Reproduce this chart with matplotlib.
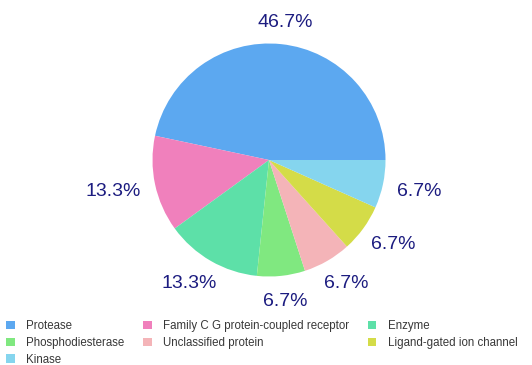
import numpy as np
import matplotlib
matplotlib.use("Agg")
import matplotlib.pyplot as plt

plt.rcParams["font.family"] = ["Liberation Sans", "DejaVu Sans"]

# target classes (15 compounds in total)
classes = ["Protease", "Family C G protein-coupled receptor", "Enzyme",
           "Phosphodiesterase", "Unclassified protein",
           "Ligand-gated ion channel", "Kinase"]
counts = [7, 2, 2, 1, 1, 1, 1]
colors = ["#5ca8f0", "#f080bc", "#5de0a8", "#80e880", "#f4b4b8",
          "#d4dc48", "#85d5ee"]

W, H = 532, 365
fig = plt.figure(figsize=(W / 100, H / 100), dpi=100)

cx, cy, r = 269, 160, 116.5
ax = fig.add_axes([(cx - r) / W, (H - cy - r) / H, 2 * r / W, 2 * r / H])
wedges, _ = ax.pie(counts, colors=colors, startangle=0, counterclock=True,
                   radius=1, wedgeprops=dict(linewidth=0))
ax.set_xlim(-1, 1)
ax.set_ylim(-1, 1)
ax.set_aspect("equal")
ax.axis("off")

# percent labels: the text box edge sits just outside the rim
total = sum(counts)
labels = []
for w, c in zip(wedges, counts):
    ang = np.deg2rad((w.theta1 + w.theta2) / 2)
    t = ax.annotate(f"{100 * c / total:.1f}%",
                    xy=(1.13 * np.cos(ang), 1.13 * np.sin(ang)),
                    xytext=(0, 0), textcoords="offset pixels",
                    ha="center", va="center", fontsize=14, color="#1c1c80",
                    annotation_clip=False)
    labels.append((t, ang))

fig.canvas.draw()
rend = fig.canvas.get_renderer()
for t, ang in labels:
    bb = t.get_window_extent(rend)
    hw, hh = bb.width / 2, bb.height / 2
    t.xyann = (hw * np.cos(ang), hh * np.sin(ang) - 2)

# legend laid out row by row in three columns
order = [0, 3, 6, 1, 4, 2, 5]
fig.legend([wedges[i] for i in order], [classes[i] for i in order],
           ncol=3, loc="upper left", bbox_to_anchor=(6 / W, 1 - 320 / H),
           frameon=False, fontsize=8.3, handlelength=0.75, handleheight=0.75,
           handletextpad=1.0, columnspacing=1.6, labelspacing=0.42,
           borderpad=0, borderaxespad=0, labelcolor="#383838")

fig.savefig("out.png", dpi=100)
